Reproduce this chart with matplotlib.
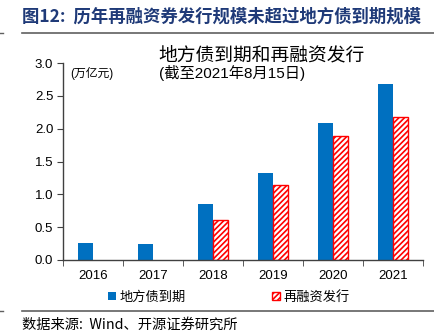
import numpy as np
import matplotlib.pyplot as plt
from matplotlib.lines import Line2D

plt.rcParams['font.family'] = ['Liberation Sans', 'Noto Sans CJK SC', 'DejaVu Sans']
plt.rcParams['hatch.color'] = '#FF0000'
plt.rcParams['hatch.linewidth'] = 1.2

# 数据 (万亿元)
years = ['2016', '2017', '2018', '2019', '2020', '2021']
due = [0.26, 0.25, 0.85, 1.32, 2.08, 2.68]
refi = [0, 0, 0.61, 1.14, 1.89, 2.18]

W, H = 435, 336
fig = plt.figure(figsize=(W / 100, H / 100), dpi=100)
ax = fig.add_axes([63 / W, 1 - 260 / H, 360 / W, 197 / H])

x = np.arange(len(years))
bw = 0.25
ax.bar(x - bw / 2, due, bw, color='#0070C0', label='地方债到期')
ax.bar(x[2:] + bw / 2, refi[2:], bw, color='white', edgecolor='#FF0000',
       hatch='//////', linewidth=1.0, label='再融资发行')

ax.set_xlim(-0.5, 5.5)
ax.set_ylim(0, 3.0)
ax.set_yticks(np.arange(0, 3.01, 0.5))
ax.set_yticklabels([f'{v:.1f}' for v in np.arange(0, 3.01, 0.5)])
ax.set_xticks(x)
ax.set_xticklabels(years)
ax.set_xticks(np.arange(-0.5, 5.6, 1), minor=True)
ax.tick_params(axis='x', which='major', length=0, pad=7, labelsize=9.5)
ax.tick_params(axis='x', which='minor', length=4, color='#404040', direction='out')
ax.tick_params(axis='y', length=4, color='#404040', direction='out', labelsize=9.5, pad=3)
for s in ['top', 'right']:
    ax.spines[s].set_visible(False)
for s in ['left', 'bottom']:
    ax.spines[s].set_color('#404040')
    ax.spines[s].set_linewidth(1.0)

# 图内标题
fig.text(261 / W, 1 - 55 / H, '地方债到期和再融资发行', ha='center', va='center',
         fontsize=13.5, family=['Noto Sans CJK SC'])
fig.text(232 / W, 1 - 73 / H, '(截至2021年8月15日)', ha='center', va='center',
         fontsize=11)
fig.text(70 / W, 1 - 73 / H, '(万亿元)', ha='left', va='center', fontsize=8.5)

# 图例
fig.legend(loc='center', bbox_to_anchor=(229 / W, 1 - 297 / H), ncol=2, frameon=False,
           handlelength=0.6, handleheight=0.6, handletextpad=0.3,
           columnspacing=6.5, prop={'family': ['Noto Sans CJK SC'], 'size': 9.5})

# 报告标题与来源
fig.text(22 / W, 1 - 17 / H, '图12:  历年再融资券发行规模未超过地方债到期规模',
         ha='left', va='center', fontsize=12.5, fontweight='bold', color='#1F3A78',
         family=['Noto Sans CJK SC'])
fig.add_artist(Line2D([22 / W, 1], [1 - 33 / H, 1 - 33 / H], color='#606060', lw=1.2))
fig.add_artist(Line2D([22 / W, 1], [1 - 311 / H, 1 - 311 / H], color='#606060', lw=1.2))
fig.add_artist(Line2D([0, 3 / W], [1 - 33 / H, 1 - 33 / H], color='#606060', lw=1))
fig.add_artist(Line2D([0, 3 / W], [1 - 311 / H, 1 - 311 / H], color='#606060', lw=1))
fig.text(22 / W, 1 - 325 / H, '数据来源:  Wind、开源证券研究所', ha='left', va='center',
         fontsize=10.3, family=['Noto Sans CJK SC'])

fig.savefig('out.png', dpi=100)
